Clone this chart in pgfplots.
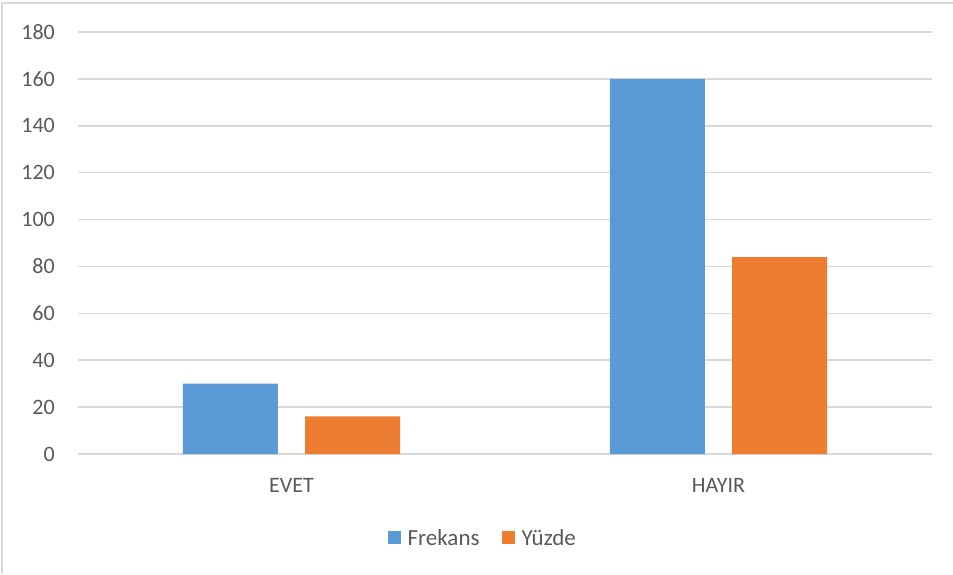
\documentclass[border=0pt]{standalone}
\usepackage{fontspec}
\setmainfont{Carlito}
\newfontfamily\serifg{Liberation Serif}
\usepackage{pgfplots}
\pgfplotsset{compat=1.18}
\definecolor{cfrek}{HTML}{5B9BD5}
\definecolor{cyuz}{HTML}{ED7D31}
\definecolor{gridc}{HTML}{D9D9D9}
\definecolor{txt}{HTML}{595959}
\begin{document}
\begin{tikzpicture}
\useasboundingbox (-78pt,-120pt) rectangle (875pt,454pt);
\draw[gridc, line width=1.2pt] (-76pt,-120pt) -- (-76pt,451pt) -- (875pt,451pt);
\node[anchor=base, font=\fontsize{26}{30}\selectfont\serifg] at (136pt,460pt) {g};
\begin{axis}[
    anchor=south west, at={(0pt,0pt)},
    scale only axis, width=854pt, height=422pt,
    ybar,
    xmin=-0.5, xmax=1.5, ymin=0, ymax=180,
    xtick={0,1}, xticklabels={EVET,HAYIR},
    ytick={0,20,...,180},
    ymajorgrids,
    grid style={draw=gridc, line width=1.5pt},
    axis line style={draw=none},
    major tick length=0pt,
    tick label style={font=\fontsize{22}{26}\selectfont, text=txt},
    /pgf/number format/assume math mode=true,
    yticklabel style={inner sep=0pt, anchor=east, xshift=-23pt},
    xticklabel style={inner sep=0pt, anchor=north, yshift=-24pt},
    legend style={at={(0.474,-0.199)}, anchor=center, draw=none, fill=none,
        legend columns=-1, font=\fontsize{23}{27}\selectfont, text=txt,
        /tikz/every even column/.append style={column sep=20pt}},
    legend image code/.code={\fill[#1] (0pt,-6pt) rectangle (13pt,7pt); \path (18pt,0pt);},
]
\addplot[fill=cfrek, draw=none, bar width=0.2225, bar shift=-0.143] coordinates {(0,30) (1,160)};
\addplot[fill=cyuz, draw=none, bar width=0.2225, bar shift=0.143] coordinates {(0,16) (1,84)};
\legend{Frekans, Yüzde}
\end{axis}
\end{tikzpicture}
\end{document}
